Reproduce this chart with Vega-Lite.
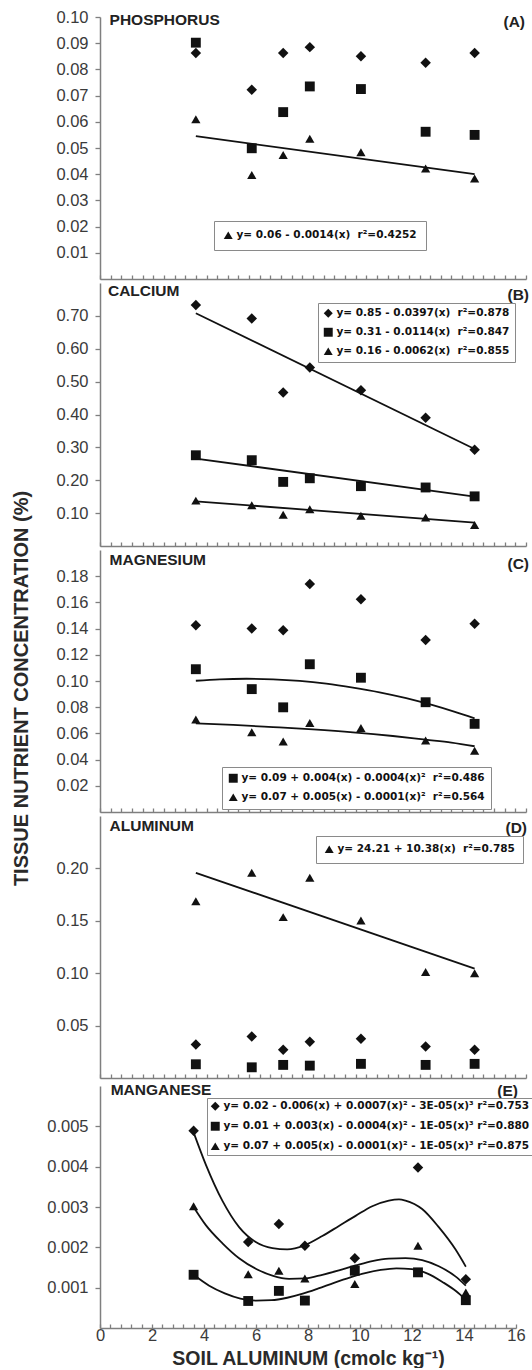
{
"$schema": "https://vega.github.io/schema/vega-lite/v6.json",
"background": "white",
"padding": {"left": 11, "top": 9, "right": 0, "bottom": 0},
"spacing": 3,
"title": {"text": "TISSUE NUTRIENT CONCENTRATION (%)", "orient": "left", "anchor": "middle", "offset": 15, "font": "Liberation Sans", "fontSize": 20, "fontWeight": "bold", "color": "#2a2a2a"},
"datasets": {
"pts": [
{"p":"A","s":"D","x":3.6,"y":0.0863},{"p":"A","s":"D","x":5.7,"y":0.0722},{"p":"A","s":"D","x":6.88,"y":0.0863},{"p":"A","s":"D","x":7.88,"y":0.0885},{"p":"A","s":"D","x":9.8,"y":0.085},{"p":"A","s":"D","x":12.23,"y":0.0825},{"p":"A","s":"D","x":14.07,"y":0.0863},
{"p":"A","s":"S","x":3.6,"y":0.0902},{"p":"A","s":"S","x":5.7,"y":0.0499},{"p":"A","s":"S","x":6.88,"y":0.0637},{"p":"A","s":"S","x":7.88,"y":0.0735},{"p":"A","s":"S","x":9.8,"y":0.0725},{"p":"A","s":"S","x":12.23,"y":0.0562},{"p":"A","s":"S","x":14.07,"y":0.055},
{"p":"A","s":"T","x":3.6,"y":0.061},{"p":"A","s":"T","x":5.7,"y":0.0397},{"p":"A","s":"T","x":6.88,"y":0.0473},{"p":"A","s":"T","x":7.88,"y":0.0535},{"p":"A","s":"T","x":9.8,"y":0.0484},{"p":"A","s":"T","x":12.23,"y":0.0422},{"p":"A","s":"T","x":14.07,"y":0.0384},
{"p":"B","s":"D","x":3.6,"y":0.733},{"p":"B","s":"D","x":5.7,"y":0.692},{"p":"B","s":"D","x":6.88,"y":0.467},{"p":"B","s":"D","x":7.88,"y":0.543},{"p":"B","s":"D","x":9.8,"y":0.474},{"p":"B","s":"D","x":12.23,"y":0.39},{"p":"B","s":"D","x":14.07,"y":0.293},
{"p":"B","s":"S","x":3.6,"y":0.276},{"p":"B","s":"S","x":5.7,"y":0.261},{"p":"B","s":"S","x":6.88,"y":0.195},{"p":"B","s":"S","x":7.88,"y":0.206},{"p":"B","s":"S","x":9.8,"y":0.182},{"p":"B","s":"S","x":12.23,"y":0.178},{"p":"B","s":"S","x":14.07,"y":0.151},
{"p":"B","s":"T","x":3.6,"y":0.138},{"p":"B","s":"T","x":5.7,"y":0.124},{"p":"B","s":"T","x":6.88,"y":0.095},{"p":"B","s":"T","x":7.88,"y":0.112},{"p":"B","s":"T","x":9.8,"y":0.092},{"p":"B","s":"T","x":12.23,"y":0.087},{"p":"B","s":"T","x":14.07,"y":0.064},
{"p":"C","s":"D","x":3.6,"y":0.1426},{"p":"C","s":"D","x":5.7,"y":0.1401},{"p":"C","s":"D","x":6.88,"y":0.1388},{"p":"C","s":"D","x":7.88,"y":0.174},{"p":"C","s":"D","x":9.8,"y":0.1624},{"p":"C","s":"D","x":12.23,"y":0.1313},{"p":"C","s":"D","x":14.07,"y":0.1437},
{"p":"C","s":"S","x":3.6,"y":0.109},{"p":"C","s":"S","x":5.7,"y":0.0938},{"p":"C","s":"S","x":6.88,"y":0.0799},{"p":"C","s":"S","x":7.88,"y":0.1128},{"p":"C","s":"S","x":9.8,"y":0.1025},{"p":"C","s":"S","x":12.23,"y":0.0838},{"p":"C","s":"S","x":14.07,"y":0.0673},
{"p":"C","s":"T","x":3.6,"y":0.0707},{"p":"C","s":"T","x":5.7,"y":0.0609},{"p":"C","s":"T","x":6.88,"y":0.0539},{"p":"C","s":"T","x":7.88,"y":0.068},{"p":"C","s":"T","x":9.8,"y":0.0642},{"p":"C","s":"T","x":12.23,"y":0.0545},{"p":"C","s":"T","x":14.07,"y":0.0467},
{"p":"D","s":"D","x":3.6,"y":0.032},{"p":"D","s":"D","x":5.7,"y":0.0397},{"p":"D","s":"D","x":6.88,"y":0.0269},{"p":"D","s":"D","x":7.88,"y":0.0346},{"p":"D","s":"D","x":9.8,"y":0.0375},{"p":"D","s":"D","x":12.23,"y":0.0301},{"p":"D","s":"D","x":14.07,"y":0.0269},
{"p":"D","s":"S","x":3.6,"y":0.0131},{"p":"D","s":"S","x":5.7,"y":0.0102},{"p":"D","s":"S","x":6.88,"y":0.0125},{"p":"D","s":"S","x":7.88,"y":0.0118},{"p":"D","s":"S","x":9.8,"y":0.0135},{"p":"D","s":"S","x":12.23,"y":0.0125},{"p":"D","s":"S","x":14.07,"y":0.0135},
{"p":"D","s":"T","x":3.6,"y":0.1686},{"p":"D","s":"T","x":5.7,"y":0.1958},{"p":"D","s":"T","x":6.88,"y":0.1535},{"p":"D","s":"T","x":7.88,"y":0.191},{"p":"D","s":"T","x":9.8,"y":0.1503},{"p":"D","s":"T","x":12.23,"y":0.1012},{"p":"D","s":"T","x":14.07,"y":0.1},
{"p":"E","s":"D","x":3.6,"y":0.00489},{"p":"E","s":"D","x":5.7,"y":0.00213},{"p":"E","s":"D","x":6.88,"y":0.00258},{"p":"E","s":"D","x":7.88,"y":0.00204},{"p":"E","s":"D","x":9.8,"y":0.00173},{"p":"E","s":"D","x":12.23,"y":0.00398},{"p":"E","s":"D","x":14.07,"y":0.00121},
{"p":"E","s":"S","x":3.6,"y":0.00132},{"p":"E","s":"S","x":5.7,"y":0.00067},{"p":"E","s":"S","x":6.88,"y":0.00092},{"p":"E","s":"S","x":7.88,"y":0.00068},{"p":"E","s":"S","x":9.8,"y":0.00142},{"p":"E","s":"S","x":12.23,"y":0.00138},{"p":"E","s":"S","x":14.07,"y":0.00069},
{"p":"E","s":"T","x":3.6,"y":0.00302},{"p":"E","s":"T","x":5.7,"y":0.00133},{"p":"E","s":"T","x":6.88,"y":0.00142},{"p":"E","s":"T","x":7.88,"y":0.00123},{"p":"E","s":"T","x":9.8,"y":0.00109},{"p":"E","s":"T","x":12.23,"y":0.00204},{"p":"E","s":"T","x":14.07,"y":0.00088}
],
"fit": [
{"p":"A","s":"T","x":3.6,"y":0.0545},{"p":"A","s":"T","x":14.07,"y":0.04},
{"p":"B","s":"D","x":3.6,"y":0.708},{"p":"B","s":"D","x":14.07,"y":0.295},
{"p":"B","s":"S","x":3.6,"y":0.266},{"p":"B","s":"S","x":14.07,"y":0.15},
{"p":"B","s":"T","x":3.6,"y":0.136},{"p":"B","s":"T","x":14.07,"y":0.071},
{"p":"C","s":"S","x":3.6,"y":0.1002},{"p":"C","s":"S","x":4.5,"y":0.1013},{"p":"C","s":"S","x":5.5,"y":0.1017},{"p":"C","s":"S","x":6.5,"y":0.1013},{"p":"C","s":"S","x":7.5,"y":0.1001},{"p":"C","s":"S","x":8.5,"y":0.098},{"p":"C","s":"S","x":9.5,"y":0.095},{"p":"C","s":"S","x":10.5,"y":0.0914},{"p":"C","s":"S","x":11.5,"y":0.0869},{"p":"C","s":"S","x":12.5,"y":0.0815},{"p":"C","s":"S","x":13.3,"y":0.0766},{"p":"C","s":"S","x":14.07,"y":0.0715},
{"p":"C","s":"T","x":3.6,"y":0.0676},{"p":"C","s":"T","x":5,"y":0.0665},{"p":"C","s":"T","x":6.5,"y":0.0648},{"p":"C","s":"T","x":8,"y":0.063},{"p":"C","s":"T","x":9.5,"y":0.0608},{"p":"C","s":"T","x":11,"y":0.058},{"p":"C","s":"T","x":12.23,"y":0.0552},{"p":"C","s":"T","x":13.2,"y":0.053},{"p":"C","s":"T","x":14.07,"y":0.0502},
{"p":"D","s":"T","x":3.6,"y":0.1958},{"p":"D","s":"T","x":14.07,"y":0.1044},
{"p":"E","s":"D","x":3.6,"y":0.00485},{"p":"E","s":"D","x":4.07,"y":0.00405},{"p":"E","s":"D","x":4.71,"y":0.00315},{"p":"E","s":"D","x":5.35,"y":0.0025},{"p":"E","s":"D","x":5.99,"y":0.00213},{"p":"E","s":"D","x":6.63,"y":0.00198},{"p":"E","s":"D","x":7.2,"y":0.00195},{"p":"E","s":"D","x":7.87,"y":0.00205},{"p":"E","s":"D","x":8.55,"y":0.00228},{"p":"E","s":"D","x":9.19,"y":0.00253},{"p":"E","s":"D","x":9.83,"y":0.00278},{"p":"E","s":"D","x":10.47,"y":0.00302},{"p":"E","s":"D","x":11.11,"y":0.00316},{"p":"E","s":"D","x":11.5,"y":0.00319},{"p":"E","s":"D","x":11.75,"y":0.00316},{"p":"E","s":"D","x":12.39,"y":0.00295},{"p":"E","s":"D","x":13.03,"y":0.0025},{"p":"E","s":"D","x":13.67,"y":0.00195},{"p":"E","s":"D","x":14.07,"y":0.00152},
{"p":"E","s":"T","x":3.6,"y":0.003},{"p":"E","s":"T","x":4.07,"y":0.00255},{"p":"E","s":"T","x":4.71,"y":0.0021},{"p":"E","s":"T","x":5.35,"y":0.00173},{"p":"E","s":"T","x":5.99,"y":0.00147},{"p":"E","s":"T","x":6.63,"y":0.0013},{"p":"E","s":"T","x":7.27,"y":0.00122},{"p":"E","s":"T","x":7.91,"y":0.00123},{"p":"E","s":"T","x":8.55,"y":0.00132},{"p":"E","s":"T","x":9.19,"y":0.00143},{"p":"E","s":"T","x":9.83,"y":0.00155},{"p":"E","s":"T","x":10.47,"y":0.00166},{"p":"E","s":"T","x":11.11,"y":0.00172},{"p":"E","s":"T","x":11.75,"y":0.00173},{"p":"E","s":"T","x":12.39,"y":0.00168},{"p":"E","s":"T","x":13.03,"y":0.00153},{"p":"E","s":"T","x":13.67,"y":0.00128},{"p":"E","s":"T","x":14.07,"y":0.00105},
{"p":"E","s":"S","x":3.6,"y":0.00132},{"p":"E","s":"S","x":4.2,"y":0.00105},{"p":"E","s":"S","x":4.8,"y":0.00086},{"p":"E","s":"S","x":5.4,"y":0.00073},{"p":"E","s":"S","x":6,"y":0.00068},{"p":"E","s":"S","x":6.6,"y":0.00069},{"p":"E","s":"S","x":7.2,"y":0.00075},{"p":"E","s":"S","x":7.8,"y":0.00085},{"p":"E","s":"S","x":8.4,"y":0.00098},{"p":"E","s":"S","x":9,"y":0.00112},{"p":"E","s":"S","x":9.6,"y":0.00125},{"p":"E","s":"S","x":10.2,"y":0.00136},{"p":"E","s":"S","x":10.8,"y":0.00144},{"p":"E","s":"S","x":11.4,"y":0.00148},{"p":"E","s":"S","x":12,"y":0.00146},{"p":"E","s":"S","x":12.6,"y":0.00135},{"p":"E","s":"S","x":13.2,"y":0.00113},{"p":"E","s":"S","x":13.7,"y":0.00091},{"p":"E","s":"S","x":14.07,"y":0.0007}
],
"eq": [
{"p":"A","label":"y= 0.06 - 0.0014(x) \u00a0r²=0.4252"},
{"p":"B","label":"y= 0.85 - 0.0397(x) \u00a0r²=0.878"},
{"p":"B","label":"y= 0.31 - 0.0114(x) \u00a0r²=0.847"},
{"p":"B","label":"y= 0.16 - 0.0062(x) \u00a0r²=0.855"},
{"p":"C","label":"y= 0.09 + 0.004(x) - 0.0004(x)² \u00a0r²=0.486"},
{"p":"C","label":"y= 0.07 + 0.005(x) - 0.0001(x)² \u00a0r²=0.564"},
{"p":"D","label":"y= 24.21 + 10.38(x) \u00a0r²=0.785"},
{"p":"E","label":"y= 0.02 - 0.006(x) + 0.0007(x)² - 3E-05(x)³ r²=0.753"},
{"p":"E","label":"y= 0.01 + 0.003(x) - 0.0004(x)² - 1E-05(x)³ r²=0.880"},
{"p":"E","label":"y= 0.07 + 0.005(x) - 0.0001(x)² - 1E-05(x)³ r²=0.875"}
],
"lab": [
{"p":"A","name":"PHOSPHORUS","tag":"(A)"},
{"p":"B","name":"CALCIUM","tag":"(B)"},
{"p":"C","name":"MAGNESIUM","tag":"(C)"},
{"p":"D","name":"ALUMINUM","tag":"(D)"},
{"p":"E","name":"MANGANESE","tag":"(E)"}
]
},
"vconcat": [
{
"width": 426, "height": 262,
"layer": [
{"data": {"name": "pts"}, "transform": [{"filter": "datum.p === 'A'"}], "mark": {"type": "point", "filled": true, "opacity": 1, "color": "#111111"},
 "encoding": {
  "x": {"field": "x", "type": "quantitative", "scale": {"domain": [0, 16], "nice": false, "zero": false}, "axis": {"title": null, "labels": false, "values": [0,0.4,0.8,1.2,1.6,2,2.4,2.8,3.2,3.6,4,4.4,4.8,5.2,5.6,6,6.4,6.8,7.2,7.6,8,8.4,8.8,9.2,9.6,10,10.4,10.8,11.2,11.6,12,12.4,12.8,13.2,13.6,14,14.4,14.8,15.2,15.6,16]}},
  "y": {"field": "y", "type": "quantitative", "scale": {"domain": [0, 0.1], "nice": false}, "axis": {"title": null, "format": ".2f", "values": [0.01,0.02,0.03,0.04,0.05,0.06,0.07,0.08,0.09,0.1]}},
  "shape": {"field": "s", "type": "nominal", "scale": {"domain": ["D","S","T"], "range": ["diamond","square","triangle-up"]}, "legend": null},
  "size": {"field": "s", "type": "nominal", "scale": {"domain": ["D","S","T"], "range": [110,85,115]}, "legend": null}}},
{"data": {"name": "fit"}, "transform": [{"filter": "datum.p === 'A'"}], "mark": {"type": "line", "color": "#111111", "strokeWidth": 1.8, "interpolate": "monotone"},
 "encoding": {
  "x": {"field": "x", "type": "quantitative", "axis": {"title": null, "labels": false, "values": [0,0.4,0.8,1.2,1.6,2,2.4,2.8,3.2,3.6,4,4.4,4.8,5.2,5.6,6,6.4,6.8,7.2,7.6,8,8.4,8.8,9.2,9.6,10,10.4,10.8,11.2,11.6,12,12.4,12.8,13.2,13.6,14,14.4,14.8,15.2,15.6,16]}},
  "y": {"field": "y", "type": "quantitative", "axis": {"title": null, "format": ".2f", "values": [0.01,0.02,0.03,0.04,0.05,0.06,0.07,0.08,0.09,0.1]}},
  "detail": {"field": "s"}}},
{"data": {"name": "eq"}, "transform": [{"filter": "datum.p === 'A'"}], "mark": {"type": "point", "filled": true, "color": "#111111", "opacity": 0},
 "encoding": {"shape": {"field": "label", "type": "nominal", "scale": {"domain": ["y= 0.06 - 0.0014(x) \u00a0r²=0.4252"], "range": ["triangle-up"]}, "legend": {"title": null, "orient": "none", "legendX": 114, "legendY": 204, "padding": 9}}}},
{"data": {"name": "lab"}, "transform": [{"filter": "datum.p === 'A'"}], "mark": {"type": "text", "align": "left", "baseline": "alphabetic", "font": "Liberation Sans", "fontWeight": "bold", "fontSize": 15.5, "color": "#222222"},
 "encoding": {"text": {"field": "name", "type": "nominal"},
  "x": {"datum": 0.36, "axis": {"title": null, "labels": false, "values": [0,0.4,0.8,1.2,1.6,2,2.4,2.8,3.2,3.6,4,4.4,4.8,5.2,5.6,6,6.4,6.8,7.2,7.6,8,8.4,8.8,9.2,9.6,10,10.4,10.8,11.2,11.6,12,12.4,12.8,13.2,13.6,14,14.4,14.8,15.2,15.6,16]}},
  "y": {"datum": 0.0968, "axis": {"title": null, "format": ".2f", "values": [0.01,0.02,0.03,0.04,0.05,0.06,0.07,0.08,0.09,0.1]}}}},
{"data": {"name": "lab"}, "transform": [{"filter": "datum.p === 'A'"}], "mark": {"type": "text", "align": "right", "baseline": "alphabetic", "font": "Liberation Sans", "fontWeight": "bold", "fontSize": 15.5, "color": "#222222", "dx": -1},
 "encoding": {"text": {"field": "tag", "type": "nominal"},
  "x": {"datum": 16, "axis": {"title": null, "labels": false, "values": [0,0.4,0.8,1.2,1.6,2,2.4,2.8,3.2,3.6,4,4.4,4.8,5.2,5.6,6,6.4,6.8,7.2,7.6,8,8.4,8.8,9.2,9.6,10,10.4,10.8,11.2,11.6,12,12.4,12.8,13.2,13.6,14,14.4,14.8,15.2,15.6,16]}},
  "y": {"datum": 0.0963, "axis": {"title": null, "format": ".2f", "values": [0.01,0.02,0.03,0.04,0.05,0.06,0.07,0.08,0.09,0.1]}}}}
],
"resolve": {"scale": {"shape": "independent"}}
},
{
"width": 426, "height": 263,
"layer": [
{"data": {"name": "pts"}, "transform": [{"filter": "datum.p === 'B'"}], "mark": {"type": "point", "filled": true, "opacity": 1, "color": "#111111"},
 "encoding": {
  "x": {"field": "x", "type": "quantitative", "scale": {"domain": [0, 16], "nice": false, "zero": false}, "axis": {"title": null, "labels": false, "values": [0,0.4,0.8,1.2,1.6,2,2.4,2.8,3.2,3.6,4,4.4,4.8,5.2,5.6,6,6.4,6.8,7.2,7.6,8,8.4,8.8,9.2,9.6,10,10.4,10.8,11.2,11.6,12,12.4,12.8,13.2,13.6,14,14.4,14.8,15.2,15.6,16]}},
  "y": {"field": "y", "type": "quantitative", "scale": {"domain": [0, 0.8], "nice": false}, "axis": {"title": null, "format": ".2f", "values": [0.1,0.2,0.3,0.4,0.5,0.6,0.7]}},
  "shape": {"field": "s", "type": "nominal", "scale": {"domain": ["D","S","T"], "range": ["diamond","square","triangle-up"]}, "legend": null},
  "size": {"field": "s", "type": "nominal", "scale": {"domain": ["D","S","T"], "range": [110,85,115]}, "legend": null}}},
{"data": {"name": "fit"}, "transform": [{"filter": "datum.p === 'B'"}], "mark": {"type": "line", "color": "#111111", "strokeWidth": 1.8, "interpolate": "monotone"},
 "encoding": {
  "x": {"field": "x", "type": "quantitative", "axis": {"title": null, "labels": false, "values": [0,0.4,0.8,1.2,1.6,2,2.4,2.8,3.2,3.6,4,4.4,4.8,5.2,5.6,6,6.4,6.8,7.2,7.6,8,8.4,8.8,9.2,9.6,10,10.4,10.8,11.2,11.6,12,12.4,12.8,13.2,13.6,14,14.4,14.8,15.2,15.6,16]}},
  "y": {"field": "y", "type": "quantitative", "axis": {"title": null, "format": ".2f", "values": [0.1,0.2,0.3,0.4,0.5,0.6,0.7]}},
  "detail": {"field": "s"}}},
{"data": {"name": "eq"}, "transform": [{"filter": "datum.p === 'B'"}], "mark": {"type": "point", "filled": true, "color": "#111111", "opacity": 0},
 "encoding": {"shape": {"field": "label", "type": "nominal", "scale": {"domain": ["y= 0.85 - 0.0397(x) \u00a0r²=0.878","y= 0.31 - 0.0114(x) \u00a0r²=0.847","y= 0.16 - 0.0062(x) \u00a0r²=0.855"], "range": ["diamond","square","triangle-up"]}, "legend": {"title": null, "orient": "none", "legendX": 218, "legendY": 20, "padding": 5, "rowPadding": 8}}}},
{"data": {"name": "lab"}, "transform": [{"filter": "datum.p === 'B'"}], "mark": {"type": "text", "align": "left", "baseline": "alphabetic", "font": "Liberation Sans", "fontWeight": "bold", "fontSize": 15.5, "color": "#222222"},
 "encoding": {"text": {"field": "name", "type": "nominal"},
  "x": {"datum": 0.3, "axis": {"title": null, "labels": false, "values": [0,0.4,0.8,1.2,1.6,2,2.4,2.8,3.2,3.6,4,4.4,4.8,5.2,5.6,6,6.4,6.8,7.2,7.6,8,8.4,8.8,9.2,9.6,10,10.4,10.8,11.2,11.6,12,12.4,12.8,13.2,13.6,14,14.4,14.8,15.2,15.6,16]}},
  "y": {"datum": 0.759, "axis": {"title": null, "format": ".2f", "values": [0.1,0.2,0.3,0.4,0.5,0.6,0.7]}}}},
{"data": {"name": "lab"}, "transform": [{"filter": "datum.p === 'B'"}], "mark": {"type": "text", "align": "right", "baseline": "alphabetic", "font": "Liberation Sans", "fontWeight": "bold", "fontSize": 15.5, "color": "#222222", "dx": 3},
 "encoding": {"text": {"field": "tag", "type": "nominal"},
  "x": {"datum": 16, "axis": {"title": null, "labels": false, "values": [0,0.4,0.8,1.2,1.6,2,2.4,2.8,3.2,3.6,4,4.4,4.8,5.2,5.6,6,6.4,6.8,7.2,7.6,8,8.4,8.8,9.2,9.6,10,10.4,10.8,11.2,11.6,12,12.4,12.8,13.2,13.6,14,14.4,14.8,15.2,15.6,16]}},
  "y": {"datum": 0.749, "axis": {"title": null, "format": ".2f", "values": [0.1,0.2,0.3,0.4,0.5,0.6,0.7]}}}}
],
"resolve": {"scale": {"shape": "independent"}}
},
{
"width": 426, "height": 262,
"layer": [
{"data": {"name": "pts"}, "transform": [{"filter": "datum.p === 'C'"}], "mark": {"type": "point", "filled": true, "opacity": 1, "color": "#111111"},
 "encoding": {
  "x": {"field": "x", "type": "quantitative", "scale": {"domain": [0, 16], "nice": false, "zero": false}, "axis": {"title": null, "labels": false, "values": [0,0.4,0.8,1.2,1.6,2,2.4,2.8,3.2,3.6,4,4.4,4.8,5.2,5.6,6,6.4,6.8,7.2,7.6,8,8.4,8.8,9.2,9.6,10,10.4,10.8,11.2,11.6,12,12.4,12.8,13.2,13.6,14,14.4,14.8,15.2,15.6,16]}},
  "y": {"field": "y", "type": "quantitative", "scale": {"domain": [0, 0.2], "nice": false}, "axis": {"title": null, "format": ".2f", "values": [0.02,0.04,0.06,0.08,0.1,0.12,0.14,0.16,0.18]}},
  "shape": {"field": "s", "type": "nominal", "scale": {"domain": ["D","S","T"], "range": ["diamond","square","triangle-up"]}, "legend": null},
  "size": {"field": "s", "type": "nominal", "scale": {"domain": ["D","S","T"], "range": [110,85,115]}, "legend": null}}},
{"data": {"name": "fit"}, "transform": [{"filter": "datum.p === 'C'"}], "mark": {"type": "line", "color": "#111111", "strokeWidth": 1.8, "interpolate": "monotone"},
 "encoding": {
  "x": {"field": "x", "type": "quantitative", "axis": {"title": null, "labels": false, "values": [0,0.4,0.8,1.2,1.6,2,2.4,2.8,3.2,3.6,4,4.4,4.8,5.2,5.6,6,6.4,6.8,7.2,7.6,8,8.4,8.8,9.2,9.6,10,10.4,10.8,11.2,11.6,12,12.4,12.8,13.2,13.6,14,14.4,14.8,15.2,15.6,16]}},
  "y": {"field": "y", "type": "quantitative", "axis": {"title": null, "format": ".2f", "values": [0.02,0.04,0.06,0.08,0.1,0.12,0.14,0.16,0.18]}},
  "detail": {"field": "s"}}},
{"data": {"name": "eq"}, "transform": [{"filter": "datum.p === 'C'"}], "mark": {"type": "point", "filled": true, "color": "#111111", "opacity": 0},
 "encoding": {"shape": {"field": "label", "type": "nominal", "scale": {"domain": ["y= 0.09 + 0.004(x) - 0.0004(x)² \u00a0r²=0.486","y= 0.07 + 0.005(x) - 0.0001(x)² \u00a0r²=0.564"], "range": ["square","triangle-up"]}, "legend": {"title": null, "orient": "none", "legendX": 122, "legendY": 217, "padding": 6, "rowPadding": 8}}}},
{"data": {"name": "lab"}, "transform": [{"filter": "datum.p === 'C'"}], "mark": {"type": "text", "align": "left", "baseline": "alphabetic", "font": "Liberation Sans", "fontWeight": "bold", "fontSize": 15.5, "color": "#222222"},
 "encoding": {"text": {"field": "name", "type": "nominal"},
  "x": {"datum": 0.36, "axis": {"title": null, "labels": false, "values": [0,0.4,0.8,1.2,1.6,2,2.4,2.8,3.2,3.6,4,4.4,4.8,5.2,5.6,6,6.4,6.8,7.2,7.6,8,8.4,8.8,9.2,9.6,10,10.4,10.8,11.2,11.6,12,12.4,12.8,13.2,13.6,14,14.4,14.8,15.2,15.6,16]}},
  "y": {"datum": 0.1889, "axis": {"title": null, "format": ".2f", "values": [0.02,0.04,0.06,0.08,0.1,0.12,0.14,0.16,0.18]}}}},
{"data": {"name": "lab"}, "transform": [{"filter": "datum.p === 'C'"}], "mark": {"type": "text", "align": "right", "baseline": "alphabetic", "font": "Liberation Sans", "fontWeight": "bold", "fontSize": 15.5, "color": "#222222", "dx": 3},
 "encoding": {"text": {"field": "tag", "type": "nominal"},
  "x": {"datum": 16, "axis": {"title": null, "labels": false, "values": [0,0.4,0.8,1.2,1.6,2,2.4,2.8,3.2,3.6,4,4.4,4.8,5.2,5.6,6,6.4,6.8,7.2,7.6,8,8.4,8.8,9.2,9.6,10,10.4,10.8,11.2,11.6,12,12.4,12.8,13.2,13.6,14,14.4,14.8,15.2,15.6,16]}},
  "y": {"datum": 0.1855, "axis": {"title": null, "format": ".2f", "values": [0.02,0.04,0.06,0.08,0.1,0.12,0.14,0.16,0.18]}}}}
],
"resolve": {"scale": {"shape": "independent"}}
},
{
"width": 426, "height": 262,
"layer": [
{"data": {"name": "pts"}, "transform": [{"filter": "datum.p === 'D'"}], "mark": {"type": "point", "filled": true, "opacity": 1, "color": "#111111"},
 "encoding": {
  "x": {"field": "x", "type": "quantitative", "scale": {"domain": [0, 16], "nice": false, "zero": false}, "axis": {"title": null, "labels": false, "values": [0,0.4,0.8,1.2,1.6,2,2.4,2.8,3.2,3.6,4,4.4,4.8,5.2,5.6,6,6.4,6.8,7.2,7.6,8,8.4,8.8,9.2,9.6,10,10.4,10.8,11.2,11.6,12,12.4,12.8,13.2,13.6,14,14.4,14.8,15.2,15.6,16]}},
  "y": {"field": "y", "type": "quantitative", "scale": {"domain": [0, 0.25], "nice": false}, "axis": {"title": null, "format": ".2f", "values": [0.05,0.1,0.15,0.2]}},
  "shape": {"field": "s", "type": "nominal", "scale": {"domain": ["D","S","T"], "range": ["diamond","square","triangle-up"]}, "legend": null},
  "size": {"field": "s", "type": "nominal", "scale": {"domain": ["D","S","T"], "range": [110,85,115]}, "legend": null}}},
{"data": {"name": "fit"}, "transform": [{"filter": "datum.p === 'D'"}], "mark": {"type": "line", "color": "#111111", "strokeWidth": 1.8, "interpolate": "monotone"},
 "encoding": {
  "x": {"field": "x", "type": "quantitative", "axis": {"title": null, "labels": false, "values": [0,0.4,0.8,1.2,1.6,2,2.4,2.8,3.2,3.6,4,4.4,4.8,5.2,5.6,6,6.4,6.8,7.2,7.6,8,8.4,8.8,9.2,9.6,10,10.4,10.8,11.2,11.6,12,12.4,12.8,13.2,13.6,14,14.4,14.8,15.2,15.6,16]}},
  "y": {"field": "y", "type": "quantitative", "axis": {"title": null, "format": ".2f", "values": [0.05,0.1,0.15,0.2]}},
  "detail": {"field": "s"}}},
{"data": {"name": "eq"}, "transform": [{"filter": "datum.p === 'D'"}], "mark": {"type": "point", "filled": true, "color": "#111111", "opacity": 0},
 "encoding": {"shape": {"field": "label", "type": "nominal", "scale": {"domain": ["y= 24.21 + 10.38(x) \u00a0r²=0.785"], "range": ["triangle-up"]}, "legend": {"title": null, "orient": "none", "legendX": 216, "legendY": 20, "padding": 8}}}},
{"data": {"name": "lab"}, "transform": [{"filter": "datum.p === 'D'"}], "mark": {"type": "text", "align": "left", "baseline": "alphabetic", "font": "Liberation Sans", "fontWeight": "bold", "fontSize": 15.5, "color": "#222222"},
 "encoding": {"text": {"field": "name", "type": "nominal"},
  "x": {"datum": 0.36, "axis": {"title": null, "labels": false, "values": [0,0.4,0.8,1.2,1.6,2,2.4,2.8,3.2,3.6,4,4.4,4.8,5.2,5.6,6,6.4,6.8,7.2,7.6,8,8.4,8.8,9.2,9.6,10,10.4,10.8,11.2,11.6,12,12.4,12.8,13.2,13.6,14,14.4,14.8,15.2,15.6,16]}},
  "y": {"datum": 0.2354, "axis": {"title": null, "format": ".2f", "values": [0.05,0.1,0.15,0.2]}}}},
{"data": {"name": "lab"}, "transform": [{"filter": "datum.p === 'D'"}], "mark": {"type": "text", "align": "right", "baseline": "alphabetic", "font": "Liberation Sans", "fontWeight": "bold", "fontSize": 15.5, "color": "#222222", "dx": 1},
 "encoding": {"text": {"field": "tag", "type": "nominal"},
  "x": {"datum": 16, "axis": {"title": null, "labels": false, "values": [0,0.4,0.8,1.2,1.6,2,2.4,2.8,3.2,3.6,4,4.4,4.8,5.2,5.6,6,6.4,6.8,7.2,7.6,8,8.4,8.8,9.2,9.6,10,10.4,10.8,11.2,11.6,12,12.4,12.8,13.2,13.6,14,14.4,14.8,15.2,15.6,16]}},
  "y": {"datum": 0.2338, "axis": {"title": null, "format": ".2f", "values": [0.05,0.1,0.15,0.2]}}}}
],
"resolve": {"scale": {"shape": "independent"}}
},
{
"width": 416, "height": 242,
"layer": [
{"data": {"name": "pts"}, "transform": [{"filter": "datum.p === 'E'"}], "mark": {"type": "point", "filled": true, "opacity": 1, "color": "#111111"},
 "encoding": {
  "x": {"field": "x", "type": "quantitative", "scale": {"domain": [0, 16], "nice": false, "zero": false}, "axis": {"title": "SOIL ALUMINUM (cmolc kg⁻¹)", "labelOverlap": false, "labelExpr": "datum.value % 2 === 0 ? '' + datum.value : ''", "values": [0,0.4,0.8,1.2,1.6,2,2.4,2.8,3.2,3.6,4,4.4,4.8,5.2,5.6,6,6.4,6.8,7.2,7.6,8,8.4,8.8,9.2,9.6,10,10.4,10.8,11.2,11.6,12,12.4,12.8,13.2,13.6,14,14.4,14.8,15.2,15.6,16]}},
  "y": {"field": "y", "type": "quantitative", "scale": {"domain": [0, 0.006], "nice": false}, "axis": {"title": null, "format": ".3f", "values": [0.001,0.002,0.003,0.004,0.005]}},
  "shape": {"field": "s", "type": "nominal", "scale": {"domain": ["D","S","T"], "range": ["diamond","square","triangle-up"]}, "legend": null},
  "size": {"field": "s", "type": "nominal", "scale": {"domain": ["D","S","T"], "range": [110,85,115]}, "legend": null}}},
{"data": {"name": "fit"}, "transform": [{"filter": "datum.p === 'E'"}], "mark": {"type": "line", "color": "#111111", "strokeWidth": 1.8, "interpolate": "monotone"},
 "encoding": {
  "x": {"field": "x", "type": "quantitative", "axis": {"title": "SOIL ALUMINUM (cmolc kg⁻¹)", "labelOverlap": false, "labelExpr": "datum.value % 2 === 0 ? '' + datum.value : ''", "values": [0,0.4,0.8,1.2,1.6,2,2.4,2.8,3.2,3.6,4,4.4,4.8,5.2,5.6,6,6.4,6.8,7.2,7.6,8,8.4,8.8,9.2,9.6,10,10.4,10.8,11.2,11.6,12,12.4,12.8,13.2,13.6,14,14.4,14.8,15.2,15.6,16]}},
  "y": {"field": "y", "type": "quantitative", "axis": {"title": null, "format": ".3f", "values": [0.001,0.002,0.003,0.004,0.005]}},
  "detail": {"field": "s"}}},
{"data": {"name": "eq"}, "transform": [{"filter": "datum.p === 'E'"}], "mark": {"type": "point", "filled": true, "color": "#111111", "opacity": 0},
 "encoding": {"shape": {"field": "label", "type": "nominal", "scale": {"domain": ["y= 0.02 - 0.006(x) + 0.0007(x)² - 3E-05(x)³ r²=0.753","y= 0.01 + 0.003(x) - 0.0004(x)² - 1E-05(x)³ r²=0.880","y= 0.07 + 0.005(x) - 0.0001(x)² - 1E-05(x)³ r²=0.875"], "range": ["diamond","square","triangle-up"]}, "legend": {"title": null, "orient": "none", "legendX": 107, "legendY": 12, "padding": 3, "rowPadding": 9}}}},
{"data": {"name": "lab"}, "transform": [{"filter": "datum.p === 'E'"}], "mark": {"type": "text", "align": "left", "baseline": "alphabetic", "font": "Liberation Sans", "fontWeight": "bold", "fontSize": 15.5, "color": "#222222"},
 "encoding": {"text": {"field": "name", "type": "nominal"},
  "x": {"datum": 0.41, "axis": {"title": "SOIL ALUMINUM (cmolc kg⁻¹)", "labelOverlap": false, "labelExpr": "datum.value % 2 === 0 ? '' + datum.value : ''", "values": [0,0.4,0.8,1.2,1.6,2,2.4,2.8,3.2,3.6,4,4.4,4.8,5.2,5.6,6,6.4,6.8,7.2,7.6,8,8.4,8.8,9.2,9.6,10,10.4,10.8,11.2,11.6,12,12.4,12.8,13.2,13.6,14,14.4,14.8,15.2,15.6,16]}},
  "y": {"datum": 0.00578, "axis": {"title": null, "format": ".3f", "values": [0.001,0.002,0.003,0.004,0.005]}}}},
{"data": {"name": "lab"}, "transform": [{"filter": "datum.p === 'E'"}], "mark": {"type": "text", "align": "right", "baseline": "alphabetic", "font": "Liberation Sans", "fontWeight": "bold", "fontSize": 15.5, "color": "#222222", "dx": 2},
 "encoding": {"text": {"field": "tag", "type": "nominal"},
  "x": {"datum": 16, "axis": {"title": "SOIL ALUMINUM (cmolc kg⁻¹)", "labelOverlap": false, "labelExpr": "datum.value % 2 === 0 ? '' + datum.value : ''", "values": [0,0.4,0.8,1.2,1.6,2,2.4,2.8,3.2,3.6,4,4.4,4.8,5.2,5.6,6,6.4,6.8,7.2,7.6,8,8.4,8.8,9.2,9.6,10,10.4,10.8,11.2,11.6,12,12.4,12.8,13.2,13.6,14,14.4,14.8,15.2,15.6,16]}},
  "y": {"datum": 0.00576, "axis": {"title": null, "format": ".3f", "values": [0.001,0.002,0.003,0.004,0.005]}}}}
],
"resolve": {"scale": {"shape": "independent"}}
}
],
"config": {
"view": {"stroke": null},
"font": "Liberation Sans",
"axis": {"grid": false, "domainColor": "#7f7f7f", "domainWidth": 1.5, "tickColor": "#7f7f7f", "tickWidth": 1.3, "labelFont": "Liberation Sans", "labelFontSize": 16.5, "labelColor": "#3a3a3a", "labelOverlap": false, "titleFont": "Liberation Sans", "titleFontSize": 17, "titleFontWeight": "bold", "titleColor": "#2a2a2a"},
"axisX": {"tickSize": -4, "labelPadding": 3, "labelFlush": false, "titlePadding": 6, "titleFontSize": 19.5},
"axisY": {"tickSize": 5, "labelPadding": 7},
"legend": {"labelFont": "DejaVu Sans", "labelFontWeight": "bold", "labelFontSize": 10.5, "labelColor": "#111111", "labelLimit": 600, "labelOffset": 3, "strokeColor": "#8a8a8a", "fillColor": "#ffffff", "symbolOpacity": 1, "symbolSize": 80, "symbolFillColor": "#111111", "symbolStrokeWidth": 0, "cornerRadius": 0}
}
}
